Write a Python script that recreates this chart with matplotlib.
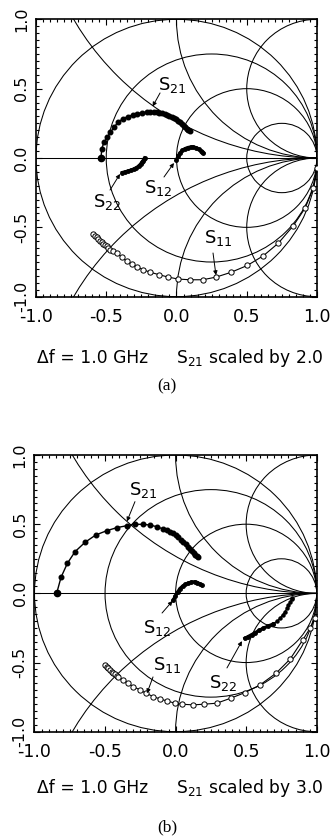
import numpy as np
import matplotlib
matplotlib.use('Agg')
import matplotlib.pyplot as plt
from matplotlib.patches import Circle
from matplotlib.ticker import MultipleLocator

plt.rcParams['font.family'] = ['DejaVu Sans']

# ---------------- Smith chart grid values ----------------
r_values = [1/3, 1.0, 3.0]
x_values = [0.5, 1.0, 2.0, -0.5, -1.0, -2.0]
tick_values = [-1.0, -0.5, 0.0, 0.5, 1.0]
tick_labels = ['-1.0', '-0.5', '0.0', '0.5', '1.0']

# ---------------- panel (a) data ----------------
s21a_re = [-0.537, -0.532, -0.515, -0.492, -0.470, -0.445, -0.415, -0.382, -0.348, -0.313,
           -0.278, -0.243, -0.210, -0.185, -0.163, -0.142, -0.122, -0.103, -0.085, -0.068,
           -0.051, -0.035, -0.019, -0.004, 0.011, 0.025, 0.039, 0.052, 0.064, 0.075, 0.085, 0.093]
s21a_im = [0.000, 0.068, 0.115, 0.152, 0.185, 0.222, 0.258, 0.283, 0.298, 0.310,
           0.320, 0.327, 0.331, 0.332, 0.331, 0.329, 0.326, 0.322, 0.317, 0.311,
           0.304, 0.296, 0.287, 0.278, 0.268, 0.257, 0.245, 0.233, 0.221, 0.210, 0.200, 0.192]

s11a_re = [-0.592, -0.580, -0.568, -0.556, -0.544, -0.532, -0.521, -0.509, -0.497, -0.485,
           -0.473, -0.450, -0.426, -0.390, -0.354, -0.319, -0.279, -0.236, -0.189, -0.122,
           -0.058, 0.013, 0.096, 0.186, 0.281, 0.386, 0.504, 0.618, 0.725, 0.831, 0.915, 0.974, 0.998]
s11a_im = [-0.547, -0.559, -0.571, -0.583, -0.595, -0.607, -0.619, -0.628, -0.638, -0.650,
           -0.662, -0.674, -0.686, -0.715, -0.746, -0.765, -0.787, -0.806, -0.823, -0.842,
           -0.859, -0.873, -0.878, -0.878, -0.859, -0.825, -0.775, -0.705, -0.614, -0.489, -0.362, -0.218, -0.074]

s12a_re = [0.000, 0.012, 0.026, 0.042, 0.060, 0.080, 0.100, 0.120, 0.140, 0.157, 0.172, 0.184, 0.192]
s12a_im = [-0.015, 0.015, 0.038, 0.055, 0.067, 0.075, 0.079, 0.079, 0.074, 0.064, 0.053, 0.043, 0.036]

s22a_re = [-0.385, -0.365, -0.345, -0.325, -0.305, -0.285, -0.268, -0.255, -0.245, -0.237, -0.231, -0.227]
s22a_im = [-0.105, -0.100, -0.094, -0.088, -0.080, -0.070, -0.057, -0.043, -0.030, -0.018, -0.008, 0.000]

# ---------------- panel (b) data ----------------
s21b_re = [-0.843, -0.812, -0.767, -0.713, -0.642, -0.566, -0.488, -0.417, -0.347, -0.288,
           -0.229, -0.181, -0.134, -0.087, -0.060, -0.040, -0.020, 0.000, 0.018, 0.036,
           0.054, 0.071, 0.087, 0.102, 0.116, 0.129, 0.141, 0.150, 0.157]
s21b_im = [0.000, 0.116, 0.217, 0.301, 0.369, 0.422, 0.453, 0.475, 0.489, 0.499,
           0.499, 0.494, 0.482, 0.465, 0.455, 0.446, 0.434, 0.420, 0.405, 0.389,
           0.372, 0.355, 0.337, 0.320, 0.304, 0.290, 0.277, 0.268, 0.262]

s11b_re = [-0.500, -0.488, -0.477, -0.465, -0.453, -0.441, -0.429, -0.418, -0.406, -0.371,
           -0.335, -0.300, -0.252, -0.210, -0.158, -0.111, -0.063, -0.004, 0.043, 0.125,
           0.201, 0.291, 0.390, 0.492, 0.598, 0.712, 0.811, 0.901, 0.953, 0.988]
s11b_im = [-0.517, -0.529, -0.541, -0.553, -0.566, -0.575, -0.585, -0.594, -0.602, -0.626,
           -0.650, -0.674, -0.698, -0.722, -0.746, -0.763, -0.777, -0.794, -0.801, -0.806,
           -0.801, -0.794, -0.758, -0.717, -0.662, -0.577, -0.476, -0.337, -0.252, -0.180]

s12b_re = [-0.016, -0.002, 0.015, 0.031, 0.050, 0.070, 0.090, 0.112, 0.135, 0.155, 0.172, 0.185]
s12b_im = [-0.048, -0.020, 0.010, 0.035, 0.052, 0.065, 0.074, 0.081, 0.084, 0.078, 0.068, 0.058]

s22b_re = [0.492, 0.515, 0.540, 0.565, 0.592, 0.622, 0.655, 0.693, 0.720, 0.739, 0.758, 0.775,
           0.790, 0.799, 0.812, 0.822, 0.828]
s22b_im = [-0.325, -0.312, -0.298, -0.284, -0.268, -0.252, -0.237, -0.221, -0.200, -0.180, -0.156,
           -0.132, -0.108, -0.084, -0.062, -0.043, -0.030]

# labels: (text position, arrow start, arrow tip)
labels_a = {
    '21': ((-0.032, 0.526), (-0.117, 0.469), (-0.170, 0.372)),
    '12': ((-0.132, -0.216), (-0.089, -0.137), (-0.018, -0.036)),
    '22': ((-0.495, -0.317), (-0.473, -0.231), (-0.402, -0.115)),
    '11': ((0.295, -0.577), (0.260, -0.685), (0.281, -0.845)),
}
labels_b = {
    '21': ((-0.231, 0.747), (-0.288, 0.663), (-0.345, 0.520)),
    '12': ((-0.132, -0.250), (-0.096, -0.142), (-0.022, -0.055)),
    '11': ((-0.061, -0.517), (-0.160, -0.604), (-0.203, -0.722)),
    '22': ((0.336, -0.647), (0.364, -0.539), (0.470, -0.345)),
}

caption_left = 'Δf = 1.0 GHz'
caption_right_a = r'$\mathregular{S_{21}}$ scaled by 2.0'
caption_right_b = r'$\mathregular{S_{21}}$ scaled by 3.0'

LW = 0.75


def smith_grid(ax):
    ax.add_patch(Circle((0, 0), 1, fill=False, lw=LW, ec='k'))
    for r in r_values:
        ax.add_patch(Circle((r / (1 + r), 0), 1 / (1 + r), fill=False, lw=LW, ec='k'))
    for x in x_values:
        ax.add_patch(Circle((1, 1 / x), abs(1 / x), fill=False, lw=LW, ec='k'))
    ax.axhline(0, color='k', lw=LW)


def style_axes(ax):
    ax.set_xlim(-1, 1)
    ax.set_ylim(-1, 1)
    ax.set_xticks(tick_values)
    ax.set_xticklabels(tick_labels, fontsize=12.5)
    ax.set_yticks(tick_values)
    ax.set_yticklabels(tick_labels, fontsize=11.5, rotation=90, va='center')
    ax.xaxis.set_minor_locator(MultipleLocator(0.05))
    ax.yaxis.set_minor_locator(MultipleLocator(0.05))
    ax.tick_params(which='both', direction='in', top=True, right=True, width=0.8)
    ax.tick_params(which='major', length=4)
    ax.tick_params(which='minor', length=2.5)
    ax.tick_params(axis='x', pad=8)
    ax.tick_params(axis='y', pad=5)
    for s in ax.spines.values():
        s.set_linewidth(1.2)


def draw_panel(ax, s21, s11, s12, s22, labels, s22_thin_from=None):
    smith_grid(ax)
    ax.plot(s21[0], s21[1], '-', color='k', lw=1.0, marker='o', ms=3.3, mfc='k', mec='k', zorder=5)
    ax.plot(s21[0][0], s21[1][0], 'o', color='k', ms=4.5, zorder=6)
    ax.plot(s11[0], s11[1], '-', color='k', lw=0.8, marker='o', ms=3.8, mfc='white', mec='k',
            mew=0.7, zorder=5)
    ax.plot(s12[0], s12[1], '-', color='k', lw=2.4, marker='o', ms=2.5, zorder=5)
    if s22_thin_from is None:
        ax.plot(s22[0], s22[1], '-', color='k', lw=2.4, marker='o', ms=2.5, zorder=5)
    else:
        n = s22_thin_from
        ax.plot(s22[0][:n], s22[1][:n], '-', color='k', lw=2.4, marker='o', ms=2.5, zorder=5)
        ax.plot(s22[0][n - 1:], s22[1][n - 1:], '-', color='k', lw=0.9, marker='o', ms=2.2, zorder=5)
    for sub, (tpos, start, tip) in labels.items():
        ax.text(tpos[0], tpos[1], r'$\mathregular{S_{%s}}$' % sub, fontsize=13,
                ha='center', va='center', zorder=7)
        ax.annotate('', xy=tip, xytext=start,
                    arrowprops=dict(arrowstyle='-|>', color='k', lw=0.7, mutation_scale=6,
                                    shrinkA=0, shrinkB=0), zorder=7)
    style_axes(ax)


fig = plt.figure(figsize=(3.32, 8.4), dpi=100)
ax_a = fig.add_axes([0.1084, 0.6468, 0.8464, 0.3302])
ax_b = fig.add_axes([0.1039, 0.1289, 0.8500, 0.3294])

draw_panel(ax_a, (s21a_re, s21a_im), (s11a_re, s11a_im), (s12a_re, s12a_im),
           (s22a_re, s22a_im), labels_a)
draw_panel(ax_b, (s21b_re, s21b_im), (s11b_re, s11b_im), (s12b_re, s12b_im),
           (s22b_re, s22b_im), labels_b, s22_thin_from=8)

for ypix, right_txt, tag, tag_y in [(358, caption_right_a, '(a)', 386),
                                    (788, caption_right_b, '(b)', 827)]:
    fig.text(37 / 332, 1 - ypix / 840, caption_left, ha='left', va='center', fontsize=12.3)
    fig.text(323 / 332, 1 - ypix / 840, right_txt, ha='right', va='center', fontsize=12.3)
    fig.text(167 / 332, 1 - tag_y / 840, tag, ha='center', va='center', fontsize=12.5,
             family=['Liberation Serif', 'DejaVu Serif'])

fig.savefig('out.png', dpi=100)
